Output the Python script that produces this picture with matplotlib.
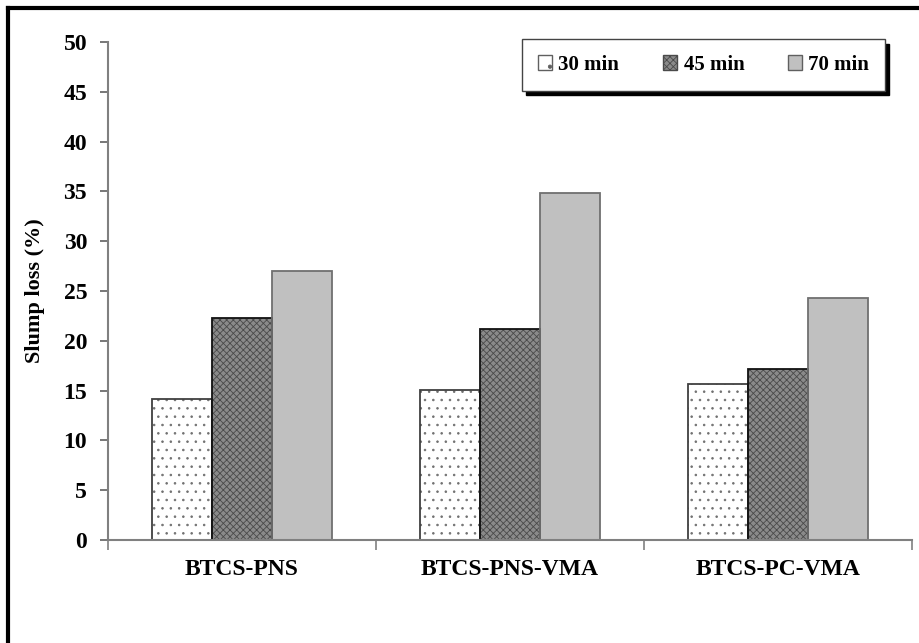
import matplotlib.pyplot as plt
import numpy as np

plt.rcParams['font.family'] = ['Liberation Serif', 'DejaVu Serif']
plt.rcParams['font.weight'] = 'bold'
plt.rcParams['hatch.linewidth'] = 0.6

# slump loss values read per mix
mixes = ['BTCS-PNS', 'BTCS-PNS-VMA', 'BTCS-PC-VMA']
series = ['30 min', '45 min', '70 min']
loss_30 = [14.2, 15.1, 15.7]
loss_45 = [22.3, 21.2, 17.2]
loss_70 = [27.0, 34.8, 24.3]
yticks = [0, 5, 10, 15, 20, 25, 30, 35, 40, 45, 50]

fig = plt.figure(figsize=(9.2, 6.43), dpi=100)
ax = fig.add_axes([108/920, 103/643, 804/920, 498/643])

# outer frame (right/bottom edges fall off the page)
fig.add_artist(plt.Line2D([8/920, 1.0], [1 - 8/643, 1 - 8/643], transform=fig.transFigure,
                          color='black', lw=3))
fig.add_artist(plt.Line2D([8/920, 8/920], [0.0, 1 - 8/643], transform=fig.transFigure,
                          color='black', lw=3))

x = np.arange(len(mixes))
w = 0.224

# hatch fill first (hatch takes the edge colour), then outlines on top
ax.bar(x - w, loss_30, w, facecolor='white', edgecolor='#707070', hatch='..', linewidth=0)
ax.bar(x, loss_45, w, facecolor='#8a8a8a', edgecolor='#4a4a4a', hatch='xxxxx', linewidth=0)
ax.bar(x + w, loss_70, w, facecolor='#c0c0c0', linewidth=0)
ax.bar(x - w, loss_30, w, fill=False, edgecolor='#404040', linewidth=1.3)
ax.bar(x, loss_45, w, fill=False, edgecolor='#111111', linewidth=1.3)
ax.bar(x + w, loss_70, w, fill=False, edgecolor='#707070', linewidth=1.3)

ax.set_xlim(-0.5, 2.5)
ax.set_ylim(0, 50)
ax.set_yticks(yticks)
ax.set_yticklabels([str(t) for t in yticks], fontsize=17, fontweight='bold')
ax.set_xticks(x)
ax.set_xticklabels(mixes, fontsize=17, fontweight='bold')
ax.set_xticks([-0.5, 0.5, 1.5, 2.5], minor=True)
ax.tick_params(axis='x', which='major', length=0, pad=14)
ax.tick_params(axis='x', which='minor', length=7, width=1.2, color='#808080', direction='out')
ax.tick_params(axis='y', length=6, width=1.2, color='#606060', direction='out', pad=9)

for s in ('top', 'right'):
    ax.spines[s].set_visible(False)
for s in ('left', 'bottom'):
    ax.spines[s].set_color('#808080')
    ax.spines[s].set_linewidth(1.5)

ax.set_ylabel('Slump loss (%)', fontsize=16, fontweight='bold')
ax.yaxis.set_label_coords(-0.078, 0.5)

# legend with hard black drop shadow
handles = [plt.Rectangle((0, 0), 1, 1, facecolor='white', edgecolor='#606060', hatch='.'),
           plt.Rectangle((0, 0), 1, 1, facecolor='#8a8a8a', edgecolor='#4a4a4a', hatch='xxxxx'),
           plt.Rectangle((0, 0), 1, 1, facecolor='#c0c0c0', edgecolor='#606060')]
leg = ax.legend(handles, series, loc='center', mode='expand',
                bbox_to_anchor=(522/920, 1 - 91/643, 363/920, 52/643),
                bbox_transform=fig.transFigure, ncol=3, fontsize=15,
                frameon=True, fancybox=False, shadow={'color': 'black', 'alpha': 1, 'ox': 3, 'oy': -3},
                handlelength=0.7, handleheight=0.7, handletextpad=0.3,
                columnspacing=1.6, borderpad=0.75, borderaxespad=0)
leg.get_frame().set_edgecolor('#444444')
leg.get_frame().set_linewidth(1.0)
for t in leg.get_texts():
    t.set_fontweight('bold')

fig.savefig('out.png', dpi=100, facecolor='white')
plt.close()
